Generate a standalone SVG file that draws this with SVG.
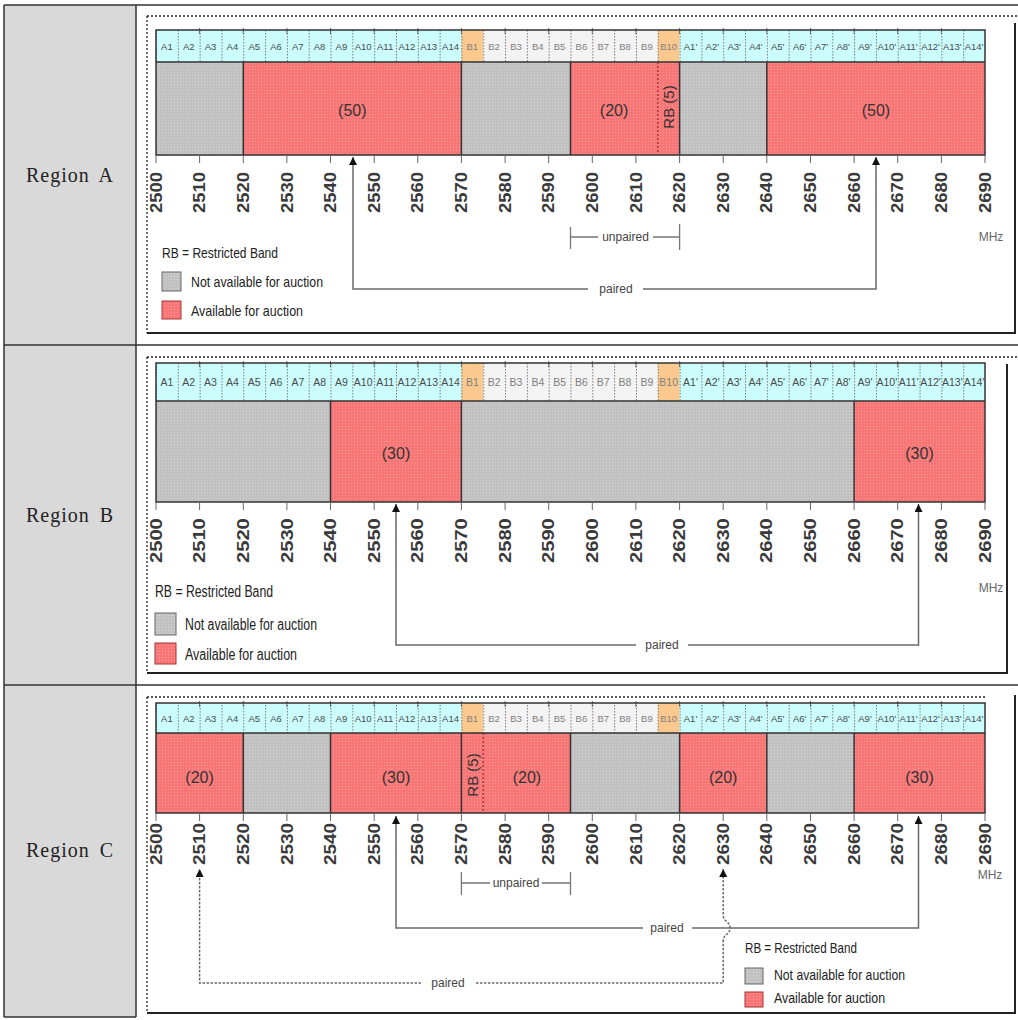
<svg xmlns="http://www.w3.org/2000/svg" width="1018" height="1020" viewBox="0 0 1018 1020">
<defs>
<style>
.tbl{stroke:#333;stroke-width:1.5;fill:none}
.dotf{stroke:#222;stroke-width:1.3;stroke-dasharray:2 2;fill:none}
.frm{stroke:#222;stroke-width:2;fill:none}
.cy{fill:#ccfdfd}
.or{fill:#fbc88d}
.wh{fill:#f3f3f3}
.gr{fill:url(#pg)}
.rd{fill:url(#pr)}
.edge{stroke:#333;stroke-width:1.5;fill:none}
.rbl{stroke:#9a2a2a;stroke-width:1.2;stroke-dasharray:2 2;fill:none}
.hd{font-family:"Liberation Sans",Arial,sans-serif;font-size:9.5px;fill:#4a4a4a;text-anchor:middle}
.hb{fill:#808080}
.blk{font-family:"Liberation Sans",Arial,sans-serif;font-size:16px;fill:#333;text-anchor:middle;dominant-baseline:central}
.rb{font-family:"Liberation Sans",Arial,sans-serif;font-size:15px;fill:#333;text-anchor:middle;dominant-baseline:central}
.tk{font-family:"Liberation Sans",Arial,sans-serif;font-size:16px;font-weight:bold;fill:#3a3a3a}
.tick{stroke:#666;stroke-width:1;fill:none}
.lg{font-family:"Liberation Sans",Arial,sans-serif;font-size:15px;fill:#222}
.sm{font-family:"Liberation Sans",Arial,sans-serif;font-size:12px;fill:#444;text-anchor:middle;dominant-baseline:central}
.mhz{font-family:"Liberation Sans",Arial,sans-serif;font-size:12px;fill:#666;text-anchor:middle;dominant-baseline:central}
.con{stroke:#6a6a6a;stroke-width:1.5;fill:none}
.dash{stroke-dasharray:2.5 1.5}
.brk{stroke:#777;stroke-width:1.3;fill:none}
.reg{font-family:"Liberation Serif","Times New Roman",serif;font-size:20px;fill:#222;text-anchor:middle;dominant-baseline:central;letter-spacing:1px;word-spacing:4px}
.swg{fill:url(#pg);stroke:#666;stroke-width:1}
.swr{fill:url(#pr);stroke:#a33;stroke-width:1}
</style>
<pattern id="pr" patternUnits="userSpaceOnUse" width="3" height="3">
<rect width="3" height="3" fill="#f87676"/>
<rect width="1" height="1" fill="#fb9a9a"/>
</pattern>
<pattern id="pg" patternUnits="userSpaceOnUse" width="3" height="3">
<rect width="3" height="3" fill="#c1c1c1"/>
<rect width="1" height="1" fill="#d6d6d6"/>
</pattern>
<pattern id="sep" patternUnits="userSpaceOnUse" x="156" y="0" width="21.816" height="3">
<rect x="0" y="0" width="1" height="1.5" fill="#7a7a7a"/>
</pattern>
<path id="ticks" d="M156,0v8M199.6,0v8M243.3,0v8M286.9,0v8M330.5,0v8M374.2,0v8M417.8,0v8M461.4,0v8M505.1,0v8M548.7,0v8M592.3,0v8M635.9,0v8M679.6,0v8M723.2,0v8M766.8,0v8M810.5,0v8M854.1,0v8M897.7,0v8M941.4,0v8M985,0v8"/>
<path id="htk" d="M199.6,-2v6M243.3,-2v6M286.9,-2v6M330.5,-2v6M374.2,-2v6M417.8,-2v6M461.4,-2v6M505.1,-2v6M548.7,-2v6M592.3,-2v6M635.9,-2v6M679.6,-2v6M723.2,-2v6M766.8,-2v6M810.5,-2v6M854.1,-2v6M897.7,-2v6M941.4,-2v6"/>
<marker id="ah" viewBox="0 0 10 10" refX="10" refY="5" markerWidth="8" markerHeight="8" orient="auto" markerUnits="userSpaceOnUse">
<path d="M0,0 L10,5 L0,10 z" fill="#111"/>
</marker>
</defs>

<rect width="1018" height="1020" fill="#fff"/>

<g id="table">
<rect x="4" y="5" width="132" height="1012" fill="#d9d9d9"/>
<path class="tbl" d="M4,5H1018M4,345H1018M4,685H1018M4,5V1017M136,5V1017M4,1017H136"/>
<text class="reg" x="70" y="175">Region A</text>
<text class="reg" x="70" y="515">Region B</text>
<text class="reg" x="70" y="850">Region C</text>
</g>

<!-- ===================== REGION A ===================== -->
<g id="regionA">
<path class="dotf" d="M147,16H1018M147,16V333"/>
<path class="frm" d="M147,333H1015V23"/>
<g id="A-header">
<rect class="cy" x="156" y="30" width="305.4" height="32"/>
<rect class="or" x="461.4" y="30" width="21.8" height="32"/>
<rect class="wh" x="483.2" y="30" width="174.6" height="32"/>
<rect class="or" x="657.8" y="30" width="21.8" height="32"/>
<rect class="cy" x="679.6" y="30" width="305.4" height="32"/>
<rect x="156" y="30" width="829" height="32" fill="url(#sep)"/>
<use href="#htk" y="30" class="tick" stroke="#555"/>
<text class="hd" y="49.5"><tspan x="166.9">A1</tspan><tspan x="188.7">A2</tspan><tspan x="210.5">A3</tspan><tspan x="232.4">A4</tspan><tspan x="254.2">A5</tspan><tspan x="276">A6</tspan><tspan x="297.8">A7</tspan><tspan x="319.6">A8</tspan><tspan x="341.4">A9</tspan><tspan x="363.2">A10</tspan><tspan x="385.1">A11</tspan><tspan x="406.9">A12</tspan><tspan x="428.7">A13</tspan><tspan x="450.5">A14</tspan><tspan class="hb" x="472.3">B1</tspan><tspan class="hb" x="494.1">B2</tspan><tspan class="hb" x="516">B3</tspan><tspan class="hb" x="537.8">B4</tspan><tspan class="hb" x="559.6">B5</tspan><tspan class="hb" x="581.4">B6</tspan><tspan class="hb" x="603.2">B7</tspan><tspan class="hb" x="625">B8</tspan><tspan class="hb" x="646.9">B9</tspan><tspan class="hb" x="668.7">B10</tspan><tspan x="690.5">A1'</tspan><tspan x="712.3">A2'</tspan><tspan x="734.1">A3'</tspan><tspan x="755.9">A4'</tspan><tspan x="777.7">A5'</tspan><tspan x="799.6">A6'</tspan><tspan x="821.4">A7'</tspan><tspan x="843.2">A8'</tspan><tspan x="865">A9'</tspan><tspan x="886.8">A10'</tspan><tspan x="908.6">A11'</tspan><tspan x="930.5">A12'</tspan><tspan x="952.3">A13'</tspan><tspan x="974.1">A14'</tspan></text>
</g>
<g id="A-blocks">
<rect class="gr" x="156" y="62" width="87.3" height="93"/>
<g id="A-b1"><rect class="rd" x="243.3" y="62" width="218.1" height="93"/><text class="blk" x="352.3" y="110">(50)</text></g>
<rect class="gr" x="461.4" y="62" width="109.1" height="93"/>
<g id="A-b2"><rect class="rd" x="570.5" y="62" width="109.1" height="93"/><text class="blk" x="614.1" y="110">(20)</text></g>
<g id="A-rb"><path class="rbl" d="M657.8,62V155"/><text class="rb" transform="translate(668.7,107) rotate(-90)">RB (5)</text></g>
<rect class="gr" x="679.6" y="62" width="87.2" height="93"/>
<g id="A-b3"><rect class="rd" x="766.8" y="62" width="218.2" height="93"/><text class="blk" x="875.9" y="110">(50)</text></g>
<path class="edge" d="M243.3,62V155M461.4,62V155M570.5,62V155M679.6,62V155M766.8,62V155M156,62H985"/>
<rect class="edge" x="156" y="30" width="829" height="125"/>
</g>
<use href="#ticks" y="155" class="tick"/>
<text class="tk" transform="translate(0,213) rotate(-90) scale(1.15,1)"><tspan x="0" y="161.7">2500</tspan><tspan x="0" y="205.3">2510</tspan><tspan x="0" y="249">2520</tspan><tspan x="0" y="292.6">2530</tspan><tspan x="0" y="336.2">2540</tspan><tspan x="0" y="379.9">2550</tspan><tspan x="0" y="423.5">2560</tspan><tspan x="0" y="467.1">2570</tspan><tspan x="0" y="510.8">2580</tspan><tspan x="0" y="554.4">2590</tspan><tspan x="0" y="598">2600</tspan><tspan x="0" y="641.6">2610</tspan><tspan x="0" y="685.3">2620</tspan><tspan x="0" y="728.9">2630</tspan><tspan x="0" y="772.5">2640</tspan><tspan x="0" y="816.2">2650</tspan><tspan x="0" y="859.8">2660</tspan><tspan x="0" y="903.4">2670</tspan><tspan x="0" y="947.1">2680</tspan><tspan x="0" y="990.7">2690</tspan></text>
<text class="mhz" x="991" y="237">MHz</text>
<g id="A-legend">
<text class="lg" x="162" y="258" textLength="116" lengthAdjust="spacingAndGlyphs">RB = Restricted Band</text>
<rect class="swg" x="162" y="272" width="19" height="19"/>
<text class="lg" x="191" y="287" textLength="132" lengthAdjust="spacingAndGlyphs">Not available for auction</text>
<rect class="swr" x="162" y="301" width="19" height="18"/>
<text class="lg" x="191" y="316" textLength="112" lengthAdjust="spacingAndGlyphs">Available for auction</text>
</g>
</g>

<!-- ===================== REGION B ===================== -->
<g id="regionB">
<path class="dotf" d="M147,357H1018M147,357V673"/>
<path class="frm" d="M147,673H1007V364"/>
<g id="B-header">
<rect class="cy" x="156" y="363" width="305.4" height="38"/>
<rect class="or" x="461.4" y="363" width="21.8" height="38"/>
<rect class="wh" x="483.2" y="363" width="174.6" height="38"/>
<rect class="or" x="657.8" y="363" width="21.8" height="38"/>
<rect class="cy" x="679.6" y="363" width="305.4" height="38"/>
<rect x="156" y="363" width="829" height="38" fill="url(#sep)"/>
<use href="#htk" y="363" class="tick" stroke="#555"/>
<text class="hd" y="386" style="font-size:10.5px"><tspan x="166.9">A1</tspan><tspan x="188.7">A2</tspan><tspan x="210.5">A3</tspan><tspan x="232.4">A4</tspan><tspan x="254.2">A5</tspan><tspan x="276">A6</tspan><tspan x="297.8">A7</tspan><tspan x="319.6">A8</tspan><tspan x="341.4">A9</tspan><tspan x="363.2">A10</tspan><tspan x="385.1">A11</tspan><tspan x="406.9">A12</tspan><tspan x="428.7">A13</tspan><tspan x="450.5">A14</tspan><tspan class="hb" x="472.3">B1</tspan><tspan class="hb" x="494.1">B2</tspan><tspan class="hb" x="516">B3</tspan><tspan class="hb" x="537.8">B4</tspan><tspan class="hb" x="559.6">B5</tspan><tspan class="hb" x="581.4">B6</tspan><tspan class="hb" x="603.2">B7</tspan><tspan class="hb" x="625">B8</tspan><tspan class="hb" x="646.9">B9</tspan><tspan class="hb" x="668.7">B10</tspan><tspan x="690.5">A1'</tspan><tspan x="712.3">A2'</tspan><tspan x="734.1">A3'</tspan><tspan x="755.9">A4'</tspan><tspan x="777.7">A5'</tspan><tspan x="799.6">A6'</tspan><tspan x="821.4">A7'</tspan><tspan x="843.2">A8'</tspan><tspan x="865">A9'</tspan><tspan x="886.8">A10'</tspan><tspan x="908.6">A11'</tspan><tspan x="930.5">A12'</tspan><tspan x="952.3">A13'</tspan><tspan x="974.1">A14'</tspan></text>
</g>
<g id="B-blocks">
<rect class="gr" x="156" y="401" width="174.5" height="101"/>
<g id="B-b1"><rect class="rd" x="330.5" y="401" width="130.9" height="101"/><text class="blk" x="396" y="453">(30)</text></g>
<rect class="gr" x="461.4" y="401" width="392.7" height="101"/>
<g id="B-b2"><rect class="rd" x="854.1" y="401" width="130.9" height="101"/><text class="blk" x="919.5" y="453">(30)</text></g>
<path class="edge" d="M330.5,401V502M461.4,401V502M854.1,401V502M156,401H985"/>
<rect class="edge" x="156" y="363" width="829" height="139"/>
</g>
<use href="#ticks" y="502" class="tick"/>
<text class="tk" transform="translate(0,563) rotate(-90) scale(1.26,1)"><tspan x="0" y="161.7">2500</tspan><tspan x="0" y="205.3">2510</tspan><tspan x="0" y="249">2520</tspan><tspan x="0" y="292.6">2530</tspan><tspan x="0" y="336.2">2540</tspan><tspan x="0" y="379.9">2550</tspan><tspan x="0" y="423.5">2560</tspan><tspan x="0" y="467.1">2570</tspan><tspan x="0" y="510.8">2580</tspan><tspan x="0" y="554.4">2590</tspan><tspan x="0" y="598">2600</tspan><tspan x="0" y="641.6">2610</tspan><tspan x="0" y="685.3">2620</tspan><tspan x="0" y="728.9">2630</tspan><tspan x="0" y="772.5">2640</tspan><tspan x="0" y="816.2">2650</tspan><tspan x="0" y="859.8">2660</tspan><tspan x="0" y="903.4">2670</tspan><tspan x="0" y="947.1">2680</tspan><tspan x="0" y="990.7">2690</tspan></text>
<text class="mhz" x="991" y="588">MHz</text>
<g id="B-legend">
<text class="lg" x="155" y="597" textLength="118" lengthAdjust="spacingAndGlyphs" style="font-size:16px">RB = Restricted Band</text>
<rect class="swg" x="155" y="613" width="21" height="22"/>
<text class="lg" x="185" y="630" textLength="132" lengthAdjust="spacingAndGlyphs" style="font-size:16px">Not available for auction</text>
<rect class="swr" x="155" y="643" width="21" height="21"/>
<text class="lg" x="185" y="660" textLength="112" lengthAdjust="spacingAndGlyphs" style="font-size:16px">Available for auction</text>
</g>
</g>

<!-- ===================== REGION C ===================== -->
<g id="regionC">
<path class="dotf" d="M147,697H987M147,697V1013"/>
<path class="frm" d="M147,1013H1015V695"/>
<g id="C-header">
<rect class="cy" x="156" y="703" width="305.4" height="30"/>
<rect class="or" x="461.4" y="703" width="21.8" height="30"/>
<rect class="wh" x="483.2" y="703" width="174.6" height="30"/>
<rect class="or" x="657.8" y="703" width="21.8" height="30"/>
<rect class="cy" x="679.6" y="703" width="305.4" height="30"/>
<rect x="156" y="703" width="829" height="30" fill="url(#sep)"/>
<use href="#htk" y="703" class="tick" stroke="#555"/>
<text class="hd" y="721.5"><tspan x="166.9">A1</tspan><tspan x="188.7">A2</tspan><tspan x="210.5">A3</tspan><tspan x="232.4">A4</tspan><tspan x="254.2">A5</tspan><tspan x="276">A6</tspan><tspan x="297.8">A7</tspan><tspan x="319.6">A8</tspan><tspan x="341.4">A9</tspan><tspan x="363.2">A10</tspan><tspan x="385.1">A11</tspan><tspan x="406.9">A12</tspan><tspan x="428.7">A13</tspan><tspan x="450.5">A14</tspan><tspan class="hb" x="472.3">B1</tspan><tspan class="hb" x="494.1">B2</tspan><tspan class="hb" x="516">B3</tspan><tspan class="hb" x="537.8">B4</tspan><tspan class="hb" x="559.6">B5</tspan><tspan class="hb" x="581.4">B6</tspan><tspan class="hb" x="603.2">B7</tspan><tspan class="hb" x="625">B8</tspan><tspan class="hb" x="646.9">B9</tspan><tspan class="hb" x="668.7">B10</tspan><tspan x="690.5">A1'</tspan><tspan x="712.3">A2'</tspan><tspan x="734.1">A3'</tspan><tspan x="755.9">A4'</tspan><tspan x="777.7">A5'</tspan><tspan x="799.6">A6'</tspan><tspan x="821.4">A7'</tspan><tspan x="843.2">A8'</tspan><tspan x="865">A9'</tspan><tspan x="886.8">A10'</tspan><tspan x="908.6">A11'</tspan><tspan x="930.5">A12'</tspan><tspan x="952.3">A13'</tspan><tspan x="974.1">A14'</tspan></text>
</g>
<g id="C-blocks">
<g id="C-b1"><rect class="rd" x="156" y="733" width="87.3" height="80"/><text class="blk" x="199.6" y="777">(20)</text></g>
<rect class="gr" x="243.3" y="733" width="87.2" height="80"/>
<g id="C-b2"><rect class="rd" x="330.5" y="733" width="130.9" height="80"/><text class="blk" x="396" y="777">(30)</text></g>
<g id="C-b3"><rect class="rd" x="461.4" y="733" width="109.1" height="80"/><text class="blk" x="526.9" y="777">(20)</text></g>
<g id="C-rb"><path class="rbl" d="M483.2,733V813"/><text class="rb" transform="translate(472.3,775) rotate(-90)">RB (5)</text></g>
<rect class="gr" x="570.5" y="733" width="109.1" height="80"/>
<g id="C-b4"><rect class="rd" x="679.6" y="733" width="87.2" height="80"/><text class="blk" x="723.2" y="777">(20)</text></g>
<rect class="gr" x="766.8" y="733" width="87.3" height="80"/>
<g id="C-b5"><rect class="rd" x="854.1" y="733" width="130.9" height="80"/><text class="blk" x="919.5" y="777">(30)</text></g>
<path class="edge" d="M243.3,733V813M330.5,733V813M461.4,733V813M570.5,733V813M679.6,733V813M766.8,733V813M854.1,733V813M156,733H985"/>
<rect class="edge" x="156" y="703" width="829" height="110"/>
</g>
<use href="#ticks" y="813" class="tick"/>
<text class="tk" transform="translate(0,865) rotate(-90) scale(1.18,1)"><tspan x="0" y="161.7">2500</tspan><tspan x="0" y="205.3">2510</tspan><tspan x="0" y="249">2520</tspan><tspan x="0" y="292.6">2530</tspan><tspan x="0" y="336.2">2540</tspan><tspan x="0" y="379.9">2550</tspan><tspan x="0" y="423.5">2560</tspan><tspan x="0" y="467.1">2570</tspan><tspan x="0" y="510.8">2580</tspan><tspan x="0" y="554.4">2590</tspan><tspan x="0" y="598">2600</tspan><tspan x="0" y="641.6">2610</tspan><tspan x="0" y="685.3">2620</tspan><tspan x="0" y="728.9">2630</tspan><tspan x="0" y="772.5">2640</tspan><tspan x="0" y="816.2">2650</tspan><tspan x="0" y="859.8">2660</tspan><tspan x="0" y="903.4">2670</tspan><tspan x="0" y="947.1">2680</tspan><tspan x="0" y="990.7">2690</tspan></text>
<text class="mhz" x="990" y="875">MHz</text>
<g id="C-legend">
<text class="lg" x="745" y="953" textLength="112" lengthAdjust="spacingAndGlyphs" style="font-size:14px">RB = Restricted Band</text>
<rect class="swg" x="745" y="968" width="18" height="16"/>
<text class="lg" x="774" y="980" textLength="131" lengthAdjust="spacingAndGlyphs" style="font-size:14px">Not available for auction</text>
<rect class="swr" x="745" y="992" width="18" height="15"/>
<text class="lg" x="774" y="1003" textLength="111" lengthAdjust="spacingAndGlyphs" style="font-size:14px">Available for auction</text>
</g>
</g>

<!-- ===================== CONNECTORS ===================== -->
<g id="connectors">
<g id="A-paired">
<path class="con" d="M588,289H353V157" marker-end="url(#ah)"/>
<path class="con" d="M643,289H876V157" marker-end="url(#ah)"/>
<text class="sm" x="616" y="289">paired</text>
</g>
<g id="A-unpaired">
<path class="brk" d="M570.5,227V249M570.5,237H598M653,237H679.6M679.6,224V250"/>
<text class="sm" x="625.5" y="237">unpaired</text>
</g>
<g id="B-paired">
<path class="con" d="M636,645H396V504" marker-end="url(#ah)"/>
<path class="con" d="M688,645H918.5V504" marker-end="url(#ah)"/>
<text class="sm" x="662" y="645">paired</text>
</g>
<g id="C-paired1">
<path class="con" d="M643,928H396V816" marker-end="url(#ah)"/>
<path class="con" d="M692,928H918.5V816" marker-end="url(#ah)"/>
<text class="sm" x="667" y="928">paired</text>
</g>
<g id="C-paired2">
<path class="con dash" d="M421,983H199.6V869" marker-end="url(#ah)"/>
<path class="con dash" d="M476,983H723.2V941C723.2,934 730,935 730,928C730,921 723.2,922 723.2,915V869" marker-end="url(#ah)"/>
<text class="sm" x="448" y="983">paired</text>
</g>
<g id="C-unpaired">
<path class="brk" d="M461.4,872V895M461.4,883H490M542,883H570.5M570.5,872V895"/>
<text class="sm" x="516" y="883">unpaired</text>
</g>
</g>
</svg>
